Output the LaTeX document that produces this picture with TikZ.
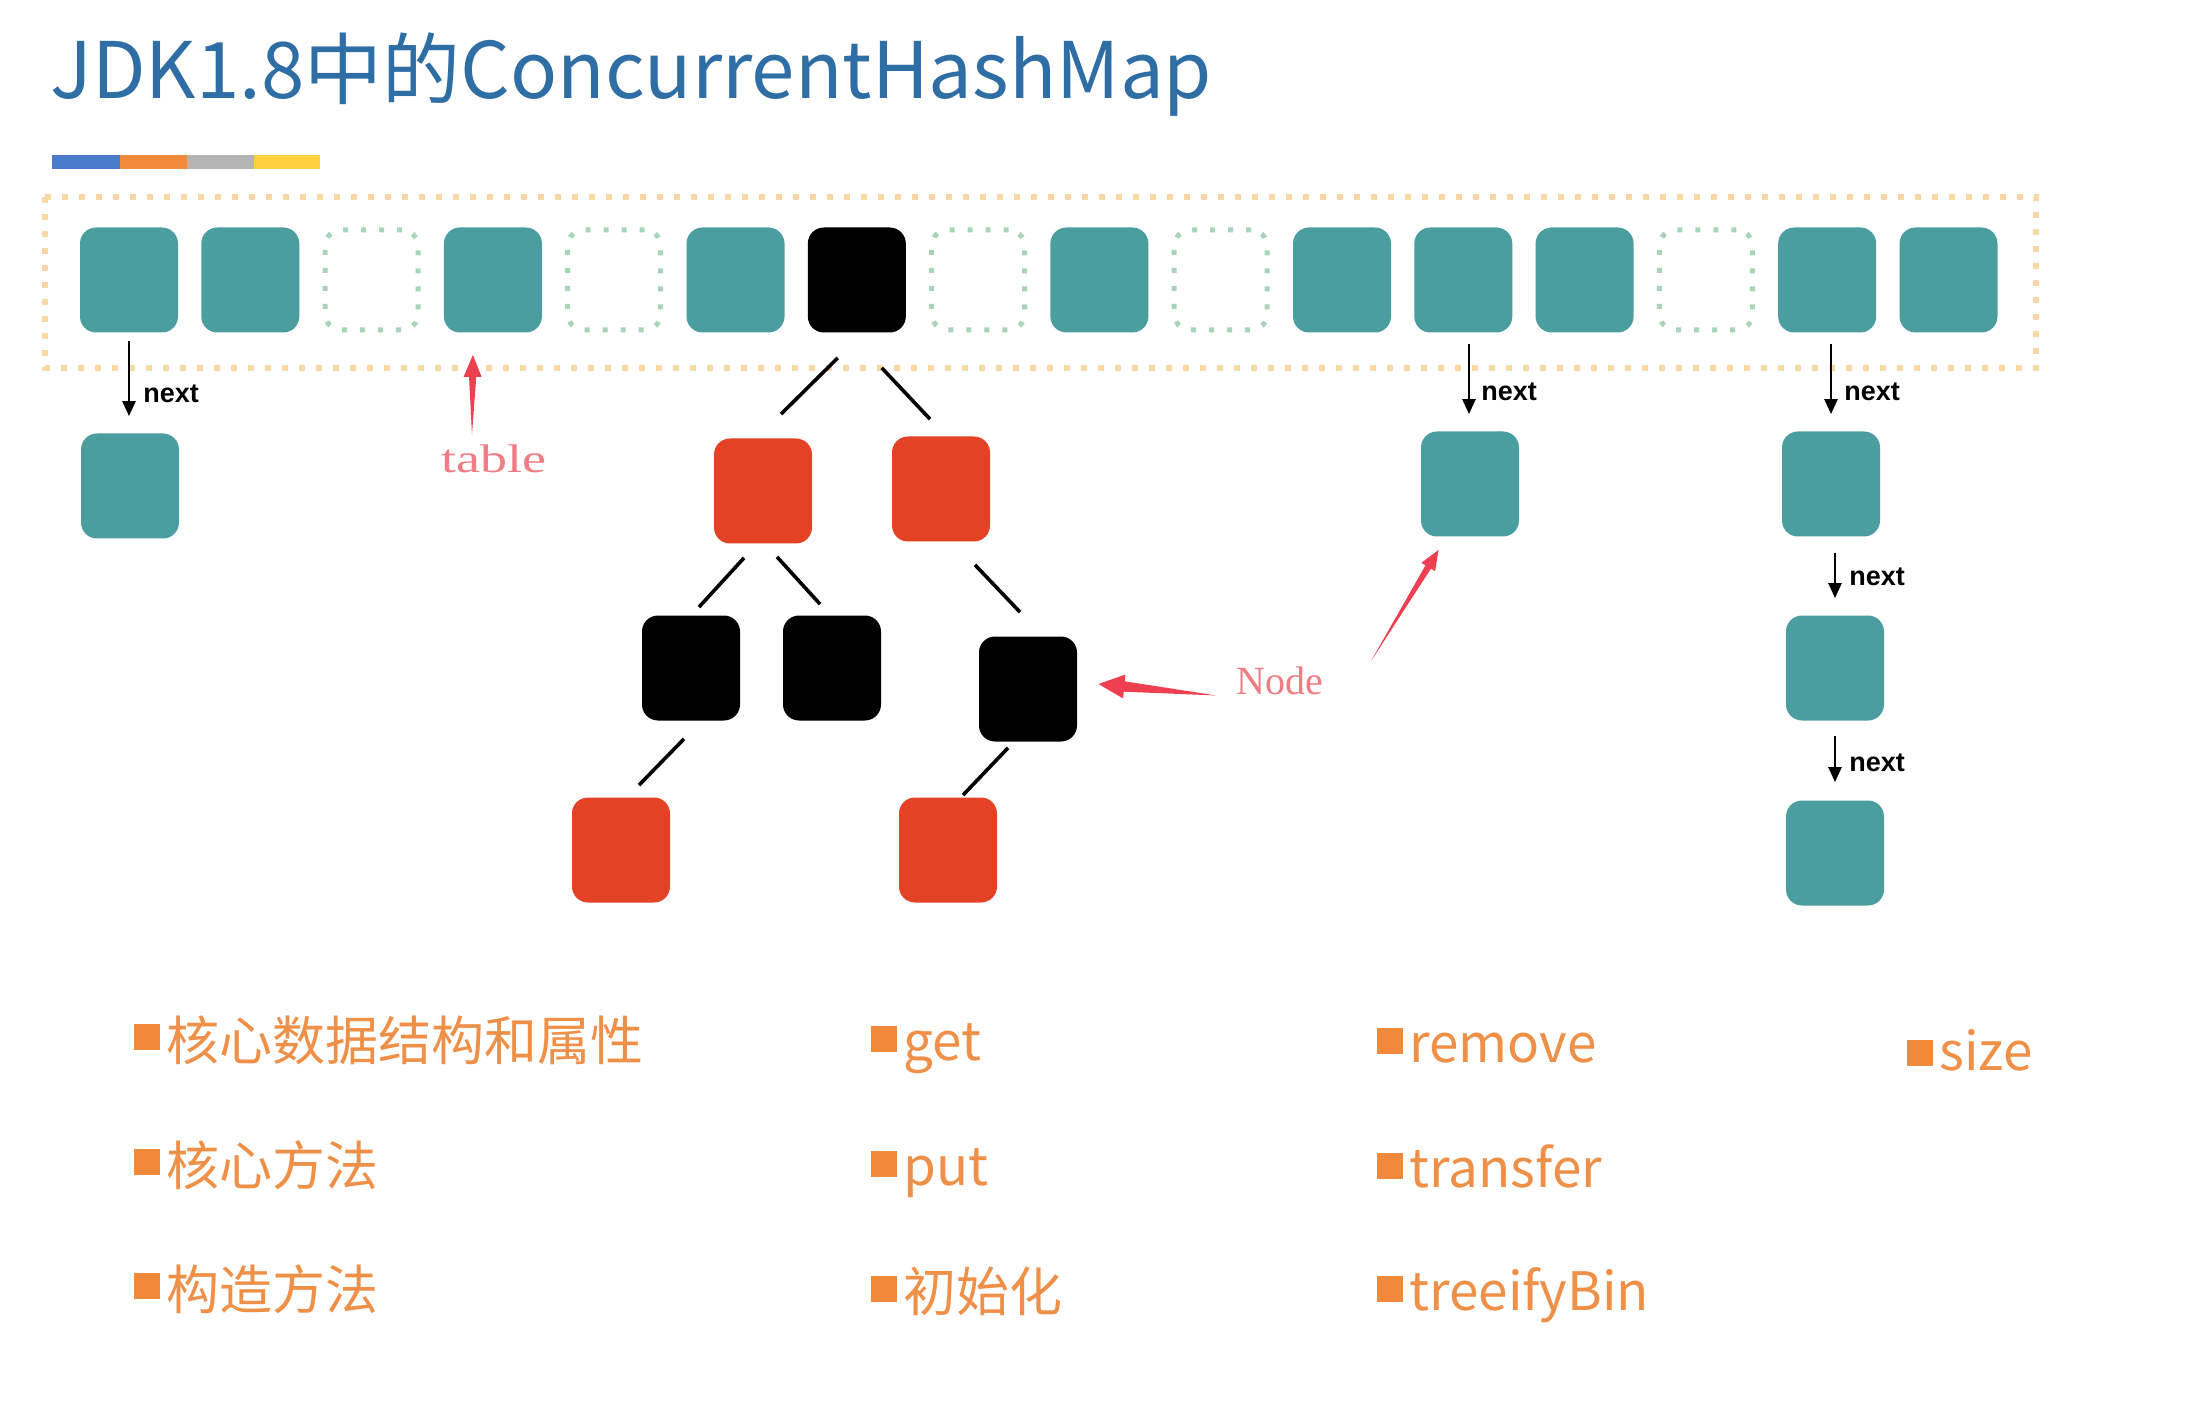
\documentclass[tikz,border=0pt]{standalone}
\usepackage{fontspec}
\newfontfamily\cjk{Noto Sans CJK SC}
\newfontfamily\lsans{Liberation Sans}
\newfontfamily\lserif{Liberation Serif}
\usetikzlibrary{calc,arrows.meta}
\definecolor{teal1}{HTML}{4A9E9F}
\definecolor{red1}{HTML}{E34224}
\definecolor{titleblue}{HTML}{2F6EA5}
\definecolor{frameor}{HTML}{F7D8A6}
\definecolor{emptygr}{HTML}{A8D5B8}
\definecolor{pinkred}{HTML}{EE4050}
\definecolor{pinktxt}{HTML}{F07C84}
\definecolor{bulletor}{HTML}{F08A3A}
\definecolor{itemor}{HTML}{EE9048}
\definecolor{barblue}{HTML}{4A7BC8}
\definecolor{barorange}{HTML}{F08C3C}
\definecolor{bargray}{HTML}{B4B4B4}
\definecolor{baryellow}{HTML}{FFD040}
\newcommand\myredarrow[5]{%
  \coordinate (tmpB) at ($(#2)!#3!(#1)$);
  \fill[pinkred] (#1) -- ($(tmpB)!#5!90:(#2)$) -- ($(tmpB)!#4!90:(#2)$) -- (#2)
     -- ($(tmpB)!#4!-90:(#2)$) -- ($(tmpB)!#5!-90:(#2)$) -- cycle;}
\begin{document}
\begin{tikzpicture}[x=0.5pt,y=-0.5pt,
  cell/.style={rectangle, rounded corners=8pt, minimum width=49pt, minimum height=52.5pt, inner sep=0pt},
  tealbox/.style={cell, fill=teal1},
  blackbox/.style={cell, fill=black},
  redbox/.style={cell, fill=red1},
  emptybox/.style={cell, minimum width=46.5pt, minimum height=50pt, draw=emptygr, line width=2.5pt, dash pattern=on 2.5pt off 6.5pt},
  treeline/.style={line width=1.8pt, black},
  nextarrow/.style={line width=1.3pt, -{Triangle[length=7.5pt,width=6.5pt]}},
  nextlbl/.style={anchor=west, inner sep=0pt, font=\lsans\bfseries\fontsize{13.5}{13.5}\selectfont},
  bullet/.style={fill=bulletor, minimum size=13pt, inner sep=0pt},
  item/.style={anchor=base west, inner sep=0pt, text=itemor, font=\cjk\fontsize{26.5}{26.5}\selectfont},
  redlbl/.style={inner sep=0pt, text=pinktxt, font=\lserif\fontsize{20}{20}\selectfont}
]
\useasboundingbox (0,0) rectangle (2202,1428);
\fill[white] (0,0) rectangle (2202,1428);

% title
\node[anchor=base west, inner sep=0pt, text=titleblue, font=\cjk\fontsize{39}{39}\selectfont] (title) at (50,99) {JDK1.8中的ConcurrentHashMap};
\fill[barblue] (52,155) rectangle (120,169);
\fill[barorange] (120,155) rectangle (187,169);
\fill[bargray] (187,155) rectangle (254,169);
\fill[baryellow] (254,155) rectangle (320,169);

% table frame
\draw[frameor, line width=3pt, dash pattern=on 3pt off 5.5pt] (45,197) rectangle (2036,368);

% table cells
\node[tealbox]  (c0)  at (129.0,280) {};
\node[tealbox]  (c1)  at (250.3,280) {};
\node[emptybox] (c2)  at (371.6,280) {};
\node[tealbox]  (c3)  at (492.9,280) {};
\node[emptybox] (c4)  at (614.2,280) {};
\node[tealbox]  (c5)  at (735.5,280) {};
\node[blackbox] (c6)  at (856.8,280) {};
\node[emptybox] (c7)  at (978.1,280) {};
\node[tealbox]  (c8)  at (1099.4,280) {};
\node[emptybox] (c9)  at (1220.7,280) {};
\node[tealbox]  (c10) at (1342.0,280) {};
\node[tealbox]  (c11) at (1463.3,280) {};
\node[tealbox]  (c12) at (1584.6,280) {};
\node[emptybox] (c13) at (1705.9,280) {};
\node[tealbox]  (c14) at (1827.2,280) {};
\node[tealbox]  (c15) at (1948.5,280) {};

% linked lists
\node[tealbox] (n1) at (130,486) {};
\node[tealbox] (n2) at (1470,484) {};
\node[tealbox] (d1) at (1831,484) {};
\node[tealbox] (d2) at (1835,668) {};
\node[tealbox] (d3) at (1835,853) {};

\draw[nextarrow] ($(c0.south)+(0,8)$) -- ($(c0.south |- n1.north)+(0,-17)$);
\node[nextlbl] (l1) at (143,394) {next};
\draw[nextarrow] ($(n2.north)+(-1,-87)$) -- ($(n2.north)+(-1,-17)$);
\node[nextlbl] (l2) at (1481,392) {next};
\draw[nextarrow] ($(d1.north)+(0,-87)$) -- ($(d1.north)+(0,-17)$);
\node[nextlbl] (l3) at (1844,392) {next};
\draw[nextarrow] ($(d1.south)+(4,16)$) -- ($(d2.north)+(0,-17)$);
\node[nextlbl] (l4) at (1849,577) {next};
\draw[nextarrow] ($(d2.south)+(0,15)$) -- ($(d3.north)+(0,-18)$);
\node[nextlbl] (l5) at (1849,763) {next};

% tree
\node[redbox]   (r1) at (763,491) {};
\node[redbox]   (r2) at (941,489) {};
\node[blackbox] (b1) at (691,668) {};
\node[blackbox] (b2) at (832,668) {};
\node[blackbox] (b3) at (1028,689) {};
\node[redbox]   (r3) at (621,850) {};
\node[redbox]   (r4) at (948,850) {};

\draw[treeline] ($(c6.south)+(-19,25)$) -- ($(r1.north)+(18,-24)$);
\draw[treeline] ($(c6.south)+(25,35)$) -- ($(r2.north)+(-11,-17)$);
\draw[treeline] ($(r1.south)+(-19,14)$) -- ($(b1.north)+(8,-8)$);
\draw[treeline] ($(r1.south)+(14,13)$) -- ($(b2.north)+(-12,-11)$);
\draw[treeline] ($(r2.south)+(34,23)$) -- ($(b3.north)+(-8,-24)$);
\draw[treeline] ($(b1.south)+(-7,18)$) -- ($(r3.north)+(18,-12)$);
\draw[treeline] ($(b3.south)+(-20,6)$) -- ($(r4.north)+(15,-2)$);

% red labels and arrows
\node[redlbl] (tbl) at (494,459) {\scalebox{1.35}[1]{table}};
\node[redlbl] (nodelbl) at (1280,681) {Node};
\coordinate (tA) at ($(tbl.north)+(-22,-10)$);
\coordinate (hA) at ($(c3.south)+(-20,22)$);
\myredarrow{tA}{hA}{11pt}{4.5pt}{1.8pt}
\coordinate (tB) at ($(nodelbl.south west)+(-20,0)$);
\coordinate (hB) at ($(b3.east)+(21,-5)$);
\myredarrow{tB}{hB}{13pt}{6pt}{2.6pt}
\coordinate (tC) at ($(nodelbl.north east)+(47,-5)$);
\coordinate (hC) at ($(n2.south west)+(18,13)$);
\myredarrow{tC}{hC}{10pt}{4pt}{1.6pt}

% items
\node[bullet] (i1b) at (147,1037) {};
\node[item] (i1) at (166,1060) {核心数据结构和属性};
\node[bullet] (i2b) at (147,1162) {};
\node[item] (i2) at (166,1185) {核心方法};
\node[bullet] (i3b) at (147,1286) {};
\node[item] (i3) at (166,1309) {构造方法};

\node[bullet] (i4b) at (884,1039) {};
\node[item] (i4) at (903,1060) {get};
\node[bullet] (i5b) at (884,1164) {};
\node[item] (i5) at (903,1185) {put};
\node[bullet] (i6b) at (884,1289) {};
\node[item] (i6) at (903,1311) {初始化};

\node[bullet] (i7b) at (1390,1041) {};
\node[item] (i7) at (1409,1062) {remove};
\node[bullet] (i8b) at (1390,1166) {};
\node[item] (i8) at (1409,1187) {transfer};
\node[bullet] (i9b) at (1390,1289) {};
\node[item] (i9) at (1409,1310) {treeifyBin};

\node[bullet] (i10b) at (1920,1053) {};
\node[item] (i10) at (1939,1070) {size};
\end{tikzpicture}
\end{document}
